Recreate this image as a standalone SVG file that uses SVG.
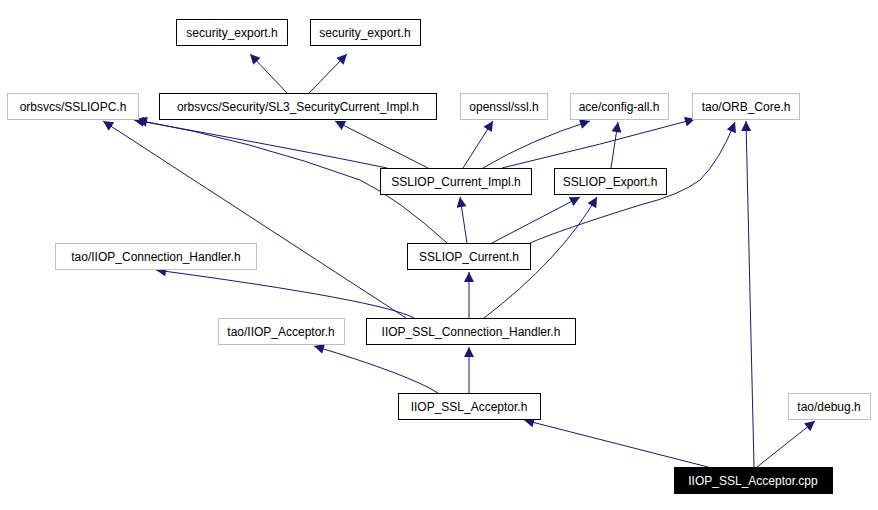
<svg xmlns="http://www.w3.org/2000/svg" width="878" height="510" viewBox="0 0 878 510">
<style>
text{font-family:"Liberation Sans",Arial,sans-serif;font-size:12px;text-anchor:middle;fill:#000}
.b{fill:#fff;stroke:#000;stroke-width:1}
.g{fill:#fff;stroke:#bfbfbf;stroke-width:1}
.e{fill:none;stroke:#191970;stroke-width:1}
</style>
<defs><marker id="a" viewBox="0 0 10 10" refX="10" refY="5" markerWidth="12" markerHeight="10" markerUnits="userSpaceOnUse" orient="auto"><path d="M0,0L10,5L0,10z" fill="#191970"/></marker></defs>
<rect width="878" height="510" fill="#fff"/>
<g id="edges">
<path class="e" marker-end="url(#a)" d="M287,93L250,54"/>
<path class="e" marker-end="url(#a)" d="M309,93L347,54"/>
<path class="e" marker-end="url(#a)" d="M387,168Q300,150 134,120"/>
<path class="e" marker-end="url(#a)" d="M428,168L335,121"/>
<path class="e" marker-end="url(#a)" d="M463,168L493,121"/>
<path class="e" marker-end="url(#a)" d="M483,168Q530,140 590,121"/>
<path class="e" marker-end="url(#a)" d="M502,168Q600,145 695,119"/>
<path class="e" marker-end="url(#a)" d="M611,168L618,122"/>
<path class="e" marker-end="url(#a)" d="M447,243Q400,200 360,180Q250,140 137,120"/>
<path class="e" marker-end="url(#a)" d="M467,243L460,197"/>
<path class="e" marker-end="url(#a)" d="M492,243L580,197"/>
<path class="e" marker-end="url(#a)" d="M530,243Q560,230 640,205Q680,195 700,180Q720,160 735,122"/>
<path class="e" marker-end="url(#a)" d="M469,318L469,272"/>
<path class="e" marker-end="url(#a)" d="M484,318Q560,260 597,197"/>
<path class="e" marker-end="url(#a)" d="M414,318Q380,300 156,270"/>
<path class="e" marker-end="url(#a)" d="M406,318L103,121"/>
<path class="e" marker-end="url(#a)" d="M469,393L469,347"/>
<path class="e" marker-end="url(#a)" d="M438,393Q410,375 314,346"/>
<path class="e" marker-end="url(#a)" d="M708,467L524,420"/>
<path class="e" marker-end="url(#a)" d="M757,467L815,421"/>
<path class="e" marker-end="url(#a)" d="M754,467L746,121"/>
</g>
<g id="n1"><rect class="b" x="176.5" y="19.5" width="111" height="26"/><text x="232" y="37">security_export.h</text></g>
<g id="n2"><rect class="b" x="310.5" y="19.5" width="110" height="26"/><text x="365" y="37">security_export.h</text></g>
<g id="n3"><rect class="g" x="7.5" y="93.5" width="131" height="26"/><text x="73" y="111">orbsvcs/SSLIOPC.h</text></g>
<g id="n4"><rect class="b" x="159.5" y="93.5" width="277" height="26"/><text x="298" y="111">orbsvcs/Security/SL3_SecurityCurrent_Impl.h</text></g>
<g id="n5"><rect class="g" x="460.5" y="93.5" width="87" height="26"/><text x="504" y="111">openssl/ssl.h</text></g>
<g id="n6"><rect class="g" x="570.5" y="93.5" width="98" height="26"/><text x="619" y="111">ace/config-all.h</text></g>
<g id="n7"><rect class="g" x="692.5" y="93.5" width="107" height="26"/><text x="746" y="111">tao/ORB_Core.h</text></g>
<g id="n8"><rect class="b" x="380.5" y="168.5" width="151" height="26"/><text x="456" y="186">SSLIOP_Current_Impl.h</text></g>
<g id="n9"><rect class="b" x="554.5" y="168.5" width="112" height="26"/><text x="610" y="186">SSLIOP_Export.h</text></g>
<g id="n10"><rect class="b" x="407.5" y="243.5" width="123" height="26"/><text x="469" y="261">SSLIOP_Current.h</text></g>
<g id="n11"><rect class="g" x="55.5" y="243.5" width="201" height="26"/><text x="156" y="261">tao/IIOP_Connection_Handler.h</text></g>
<g id="n12"><rect class="g" x="218.5" y="318.5" width="126" height="26"/><text x="281" y="336">tao/IIOP_Acceptor.h</text></g>
<g id="n13"><rect class="b" x="366.5" y="318.5" width="209" height="26"/><text x="471" y="336">IIOP_SSL_Connection_Handler.h</text></g>
<g id="n14"><rect class="b" x="398.5" y="393.5" width="142" height="26"/><text x="469" y="411">IIOP_SSL_Acceptor.h</text></g>
<g id="n15"><rect class="g" x="788.5" y="393.5" width="82" height="26"/><text x="829" y="411">tao/debug.h</text></g>
<g id="n16"><rect x="674.5" y="467.5" width="158" height="26" fill="#000" stroke="#000"/><text x="753" y="485" style="fill:#fff">IIOP_SSL_Acceptor.cpp</text></g>
</svg>
